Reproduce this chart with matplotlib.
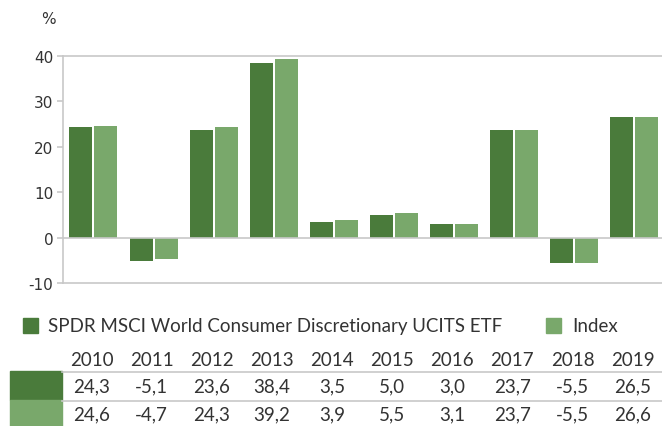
import numpy as np
import matplotlib
matplotlib.use("Agg")
import matplotlib.pyplot as plt
import matplotlib.transforms as mtransforms
from matplotlib.patches import Rectangle
from matplotlib.lines import Line2D

# data
years = ["2010", "2011", "2012", "2013", "2014", "2015", "2016", "2017", "2018", "2019"]
fund = [24.3, -5.1, 23.6, 38.4, 3.5, 5.0, 3.0, 23.7, -5.5, 26.5]
index = [24.6, -4.7, 24.3, 39.2, 3.9, 5.5, 3.1, 23.7, -5.5, 26.6]
series_names = ["SPDR MSCI World Consumer Discretionary UCITS ETF", "Index"]

dark = "#4a7b3b"
light = "#79a86b"
grey = "#c8c8c8"
txt = "#333333"
tfont = "Lato"
plt.rcParams["axes.unicode_minus"] = False

W, H = 662, 427
fig = plt.figure(figsize=(W / 100, H / 100), dpi=100)
ax = fig.add_axes([63 / W, (H - 284.3) / H, (W - 63) / W, 227.6 / H])

x = np.arange(len(years))
bw = 0.383
ax.bar(x - 0.208, fund, bw, color=dark)
ax.bar(x + 0.208, index, bw, color=light)

ax.set_xlim(-0.507, 9.46)
ax.set_ylim(-10, 40)
ax.set_yticks([-10, 0, 10, 20, 30, 40])
ax.set_xticks([])
ax.axhline(0, color=grey, lw=1.2)
for s in ["top", "bottom", "left"]:
    ax.spines[s].set_color(grey)
    ax.spines[s].set_linewidth(1.2)
ax.spines["right"].set_visible(False)
ax.tick_params(axis="y", colors=grey, labelcolor=txt, labelsize=11, length=4, width=1.2, pad=3)
fig.text(48 / W, 1 - 20 / H, "%", ha="center", va="center", fontsize=11, color=txt)

# legend
for sx, col, name, tx in [(23, dark, series_names[0], 47.5), (546, light, series_names[1], 572)]:
    fig.patches.append(Rectangle((sx / W, 1 - 334 / H), 15 / W, 15 / H,
                                 transform=fig.transFigure, color=col))
    fig.text(tx / W, 1 - 327 / H, name, ha="left", va="center", fontsize=13.5,
             color=txt, family=tfont)

# table below
tr = mtransforms.blended_transform_factory(ax.transData, fig.transFigure)
for i, yr in enumerate(years):
    fig.text(x[i] - 0.03, 1 - 360 / H, yr, transform=tr, ha="center", va="center",
             fontsize=13.5, color=txt, family=tfont)
    fig.text(x[i] - 0.03, 1 - 387 / H, f"{fund[i]:.1f}".replace(".", ","), transform=tr,
             ha="center", va="center", fontsize=13.5, color=txt, family=tfont)
    fig.text(x[i] - 0.03, 1 - 415 / H, f"{index[i]:.1f}".replace(".", ","), transform=tr,
             ha="center", va="center", fontsize=13.5, color=txt, family=tfont)

fig.patches.append(Rectangle((10 / W, 1 - 401 / H), 52 / W, 29 / H, transform=fig.transFigure, color=dark))
fig.patches.append(Rectangle((10 / W, 0), 52 / W, 26 / H, transform=fig.transFigure, color=light))
for ly in [373, 402]:
    fig.lines.append(Line2D([62 / W, 1], [1 - ly / H, 1 - ly / H], transform=fig.transFigure,
                            color=grey, lw=1.2))

fig.savefig("out.png", dpi=100)
